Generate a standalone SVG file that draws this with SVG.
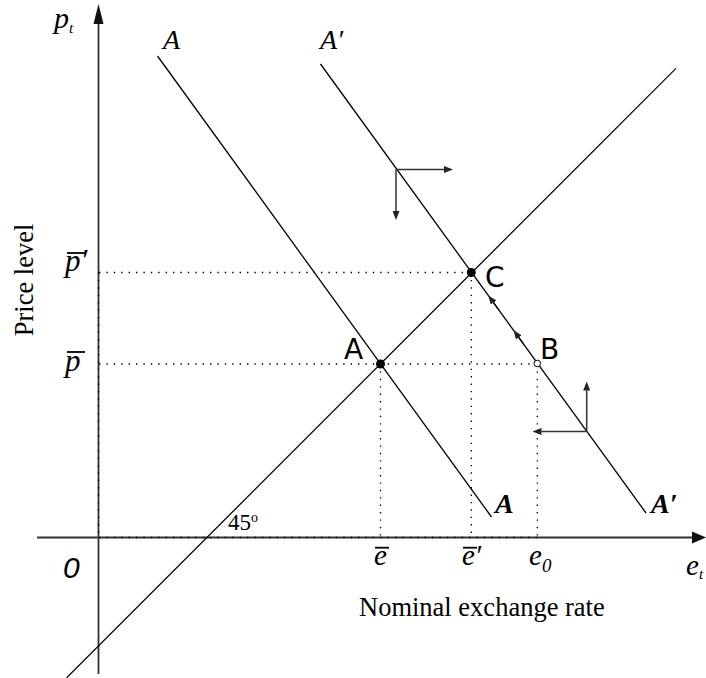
<svg xmlns="http://www.w3.org/2000/svg" width="706" height="678" viewBox="0 0 706 678">
<style>
.ax{stroke:#333;stroke-width:1.8;fill:none}
.ln{stroke:#000;stroke-width:1.3;fill:none}
.dot{stroke:#000;stroke-width:1.3;stroke-dasharray:1.4 6;fill:none}
.dir{stroke:#333;stroke-width:1.5;fill:none}
.ser{font-family:"Liberation Serif","Times New Roman",serif;fill:#000}
.it{font-style:italic}
.bi{font-style:italic;font-weight:bold}
.sans{font-family:"DejaVu Sans","Liberation Sans",sans-serif;fill:#000}
.ov{stroke:#000;stroke-width:1.8}
</style>
<defs>
<marker id="ah" markerUnits="userSpaceOnUse" markerWidth="9" markerHeight="7" viewBox="0 0 9 7" refX="0" refY="3.5" orient="auto">
<path d="M0,0 L9,3.5 L0,7 z" fill="#222"/>
</marker>
</defs>
<rect width="706" height="678" fill="#fff"/>
<g id="axes">
<line class="ax" x1="98.5" y1="674" x2="98.5" y2="22"/>
<polygon points="98.5,4 93.5,24 103.5,24" fill="#111"/>
<line class="ax" x1="37" y1="537.5" x2="693" y2="537.5"/>
<polygon points="706,537.5 692,531.5 692,543.5" fill="#111"/>
</g>
<g id="connectors">
<line id="line45" class="ln" x1="66.7" y1="677.7" x2="676" y2="68.4"/>
<line id="lineAA" class="ln" x1="157.5" y1="56" x2="491.5" y2="517"/>
<line id="lineA2A2" class="ln" x1="320.5" y1="64" x2="646" y2="513"/>
<line class="dot" x1="99" y1="272.5" x2="471" y2="272.5"/>
<line class="dot" x1="99" y1="364" x2="537" y2="364"/>
<line class="dot" x1="380.5" y1="364" x2="380.5" y2="537"/>
<line class="dot" x1="471.3" y1="272.5" x2="471.3" y2="537"/>
<line class="dot" x1="537.3" y1="364" x2="537.3" y2="537"/>
<line class="dot" x1="98.5" y1="272.5" x2="98.5" y2="537"/>
<line class="dot" x1="99" y1="537.5" x2="537" y2="537.5"/>
<line class="dir" x1="396" y1="169.5" x2="444" y2="169.5" marker-end="url(#ah)"/>
<line class="dir" x1="396" y1="169.5" x2="396" y2="211" marker-end="url(#ah)"/>
<line class="dir" x1="586.7" y1="431.5" x2="586.7" y2="390.5" marker-end="url(#ah)"/>
<line class="dir" x1="586.7" y1="431.5" x2="541.5" y2="431.5" marker-end="url(#ah)"/>
<line class="ln" x1="524" y1="344.6" x2="518.8" y2="337.4" marker-end="url(#ah)"/>
<line class="ln" x1="498.8" y1="309.9" x2="493.6" y2="302.7" marker-end="url(#ah)"/>
</g>
<g id="pointA">
<circle cx="380.5" cy="364" r="4.5" fill="#000"/>
<text class="sans" x="344" y="358.5" font-size="28">A</text>
</g>
<g id="pointB">
<circle cx="537.3" cy="363.5" r="3.3" fill="#fff" stroke="#000" stroke-width="1"/>
<text class="sans" x="540" y="358.5" font-size="28">B</text>
</g>
<g id="pointC">
<circle cx="471.3" cy="272.5" r="4.5" fill="#000"/>
<text class="sans" x="485" y="286.5" font-size="28">C</text>
</g>
<g id="labels">
<text class="ser it" x="54" y="28" font-size="30">p<tspan font-size="15" dy="5">t</tspan></text>
<text class="ser it" x="163" y="49" font-size="28">A</text>
<text class="ser it" x="320" y="49" font-size="28">A′</text>
<text class="ser bi" x="495" y="513" font-size="28">A</text>
<text class="ser bi" x="651" y="513" font-size="28">A′</text>
<text class="ser it" x="65" y="271" font-size="31">p′</text>
<line class="ov" x1="67" y1="253" x2="85" y2="253"/>
<text class="ser it" x="65" y="371" font-size="31">p</text>
<line class="ov" x1="67" y1="352" x2="85" y2="352"/>
<text class="ser it" x="374" y="565" font-size="29">e</text>
<line class="ov" x1="375" y1="547.7" x2="389" y2="547.7"/>
<text class="ser it" x="462" y="565" font-size="29">e′</text>
<line class="ov" x1="463" y1="547.7" x2="477" y2="547.7"/>
<text class="ser it" x="529" y="565" font-size="29">e<tspan font-size="19" dy="7">0</tspan></text>
<text class="ser it" x="686" y="575" font-size="29">e<tspan font-size="15" dy="4">t</tspan></text>
<text x="63" y="578" font-size="30" font-family="Liberation Sans, Arial, sans-serif" font-style="italic">0</text>
<text class="ser" x="228" y="530" font-size="23">45<tspan font-size="14" dy="-8">o</tspan></text>
<text class="ser" x="359" y="616" font-size="26.5">Nominal exchange rate</text>
<text class="ser" font-size="26.5" text-anchor="middle" transform="translate(33,280) rotate(-90)">Price level</text>
</g>
</svg>
